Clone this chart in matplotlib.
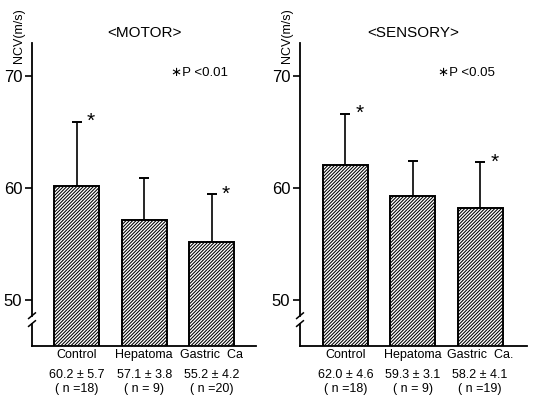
import numpy as np
import matplotlib
matplotlib.use("Agg")
import matplotlib.pyplot as plt
from matplotlib.transforms import blended_transform_factory

plt.rcParams['font.family'] = ['Liberation Sans', 'DejaVu Sans']
plt.rcParams['hatch.linewidth'] = 0.75

groups = ["Control", "Hepatoma", "Gastric  Ca"]
groups_sens = ["Control", "Hepatoma", "Gastric  Ca."]

motor_mean = [60.2, 57.1, 55.2]
motor_sd = [5.7, 3.8, 4.2]
motor_n = [18, 9, 20]
motor_sig = [True, False, True]

sens_mean = [62.0, 59.3, 58.2]
sens_sd = [4.6, 3.1, 4.1]
sens_n = [18, 9, 19]
sens_sig = [True, False, True]

yticks = [50, 60, 70]

W, H = 535, 397
fig = plt.figure(figsize=(W / 100, H / 100), dpi=100)


def panel(left_px, right_px, title, ptext, ptext_x, labels, mean, sd, n, sig, xlim):
    bottom_px, top_px = 346, 43
    ax = fig.add_axes([left_px / W, 1 - bottom_px / H,
                       (right_px - left_px) / W, (bottom_px - top_px) / H])
    x = np.arange(len(mean))
    ax.bar(x, mean, width=0.667, color='white', edgecolor='black',
           linewidth=1.4, hatch='/' * 10, zorder=2)
    ax.errorbar(x, mean, yerr=[np.zeros(len(sd)), sd], fmt='none',
                ecolor='black', elinewidth=1.2, capsize=3.5, capthick=1.4,
                zorder=1)
    for xi, m, s, st in zip(x, mean, sd, sig):
        if st:
            ax.text(xi + 0.21, m + s, "*", fontsize=15, ha='center',
                    va='center')
    ax.set_xlim(*xlim)
    ax.set_ylim(45.9, 72.9)
    ax.set_yticks(yticks)
    ax.set_xticks([])
    ax.tick_params(axis='y', length=5, width=1.2, pad=2, labelsize=12)
    for sp in ['top', 'right']:
        ax.spines[sp].set_visible(False)
    ax.spines['left'].set_linewidth(1.3)
    ax.spines['bottom'].set_linewidth(1.3)
    # axis break
    ax.spines['left'].set_bounds(48.6, 72.9)
    ax.plot([xlim[0], xlim[0]], [45.9, 47.9], color='black', lw=1.3,
            clip_on=False)
    for yb in [48.6, 47.9]:
        ax.plot([xlim[0] - 0.05, xlim[0] + 0.05], [yb - 0.25, yb + 0.25],
                color='black', lw=1.1, clip_on=False)
    tr = blended_transform_factory(ax.transData, ax.transAxes)
    for xi, lab, m, s, nn in zip(x, labels, mean, sd, n):
        ax.text(xi, -0.03, lab, transform=tr, ha='center', va='center',
                fontsize=9)
        ax.text(xi, -0.096, f"{m:.1f} ± {s:.1f}", transform=tr, ha='center',
                va='center', fontsize=9)
        ax.text(xi, -0.142, f"( n ={nn:2d})", transform=tr, ha='center',
                va='center', fontsize=9)
    ax.text(0.5, 1.033, title, transform=ax.transAxes, ha='center',
            va='center', fontsize=11)
    ax.text(ptext_x, 0.902, ptext, transform=tr, ha='left', va='center',
            fontsize=9.5)
    return ax


panel(32, 256, "<MOTOR>", "∗P <0.01", 1.39, groups, motor_mean, motor_sd,
      motor_n, motor_sig, (-0.659, 2.652))
panel(300, 527, "<SENSORY>", "∗P <0.05", 1.37, groups_sens, sens_mean,
      sens_sd, sens_n, sens_sig, (-0.674, 2.696))

fig.text(19 / W, 1 - 63 / H, "NCV(m/s)", rotation=90, ha='center',
         va='bottom', fontsize=9)
fig.text(287 / W, 1 - 63 / H, "NCV(m/s)", rotation=90, ha='center',
         va='bottom', fontsize=9)

fig.savefig("out.png", dpi=100)
